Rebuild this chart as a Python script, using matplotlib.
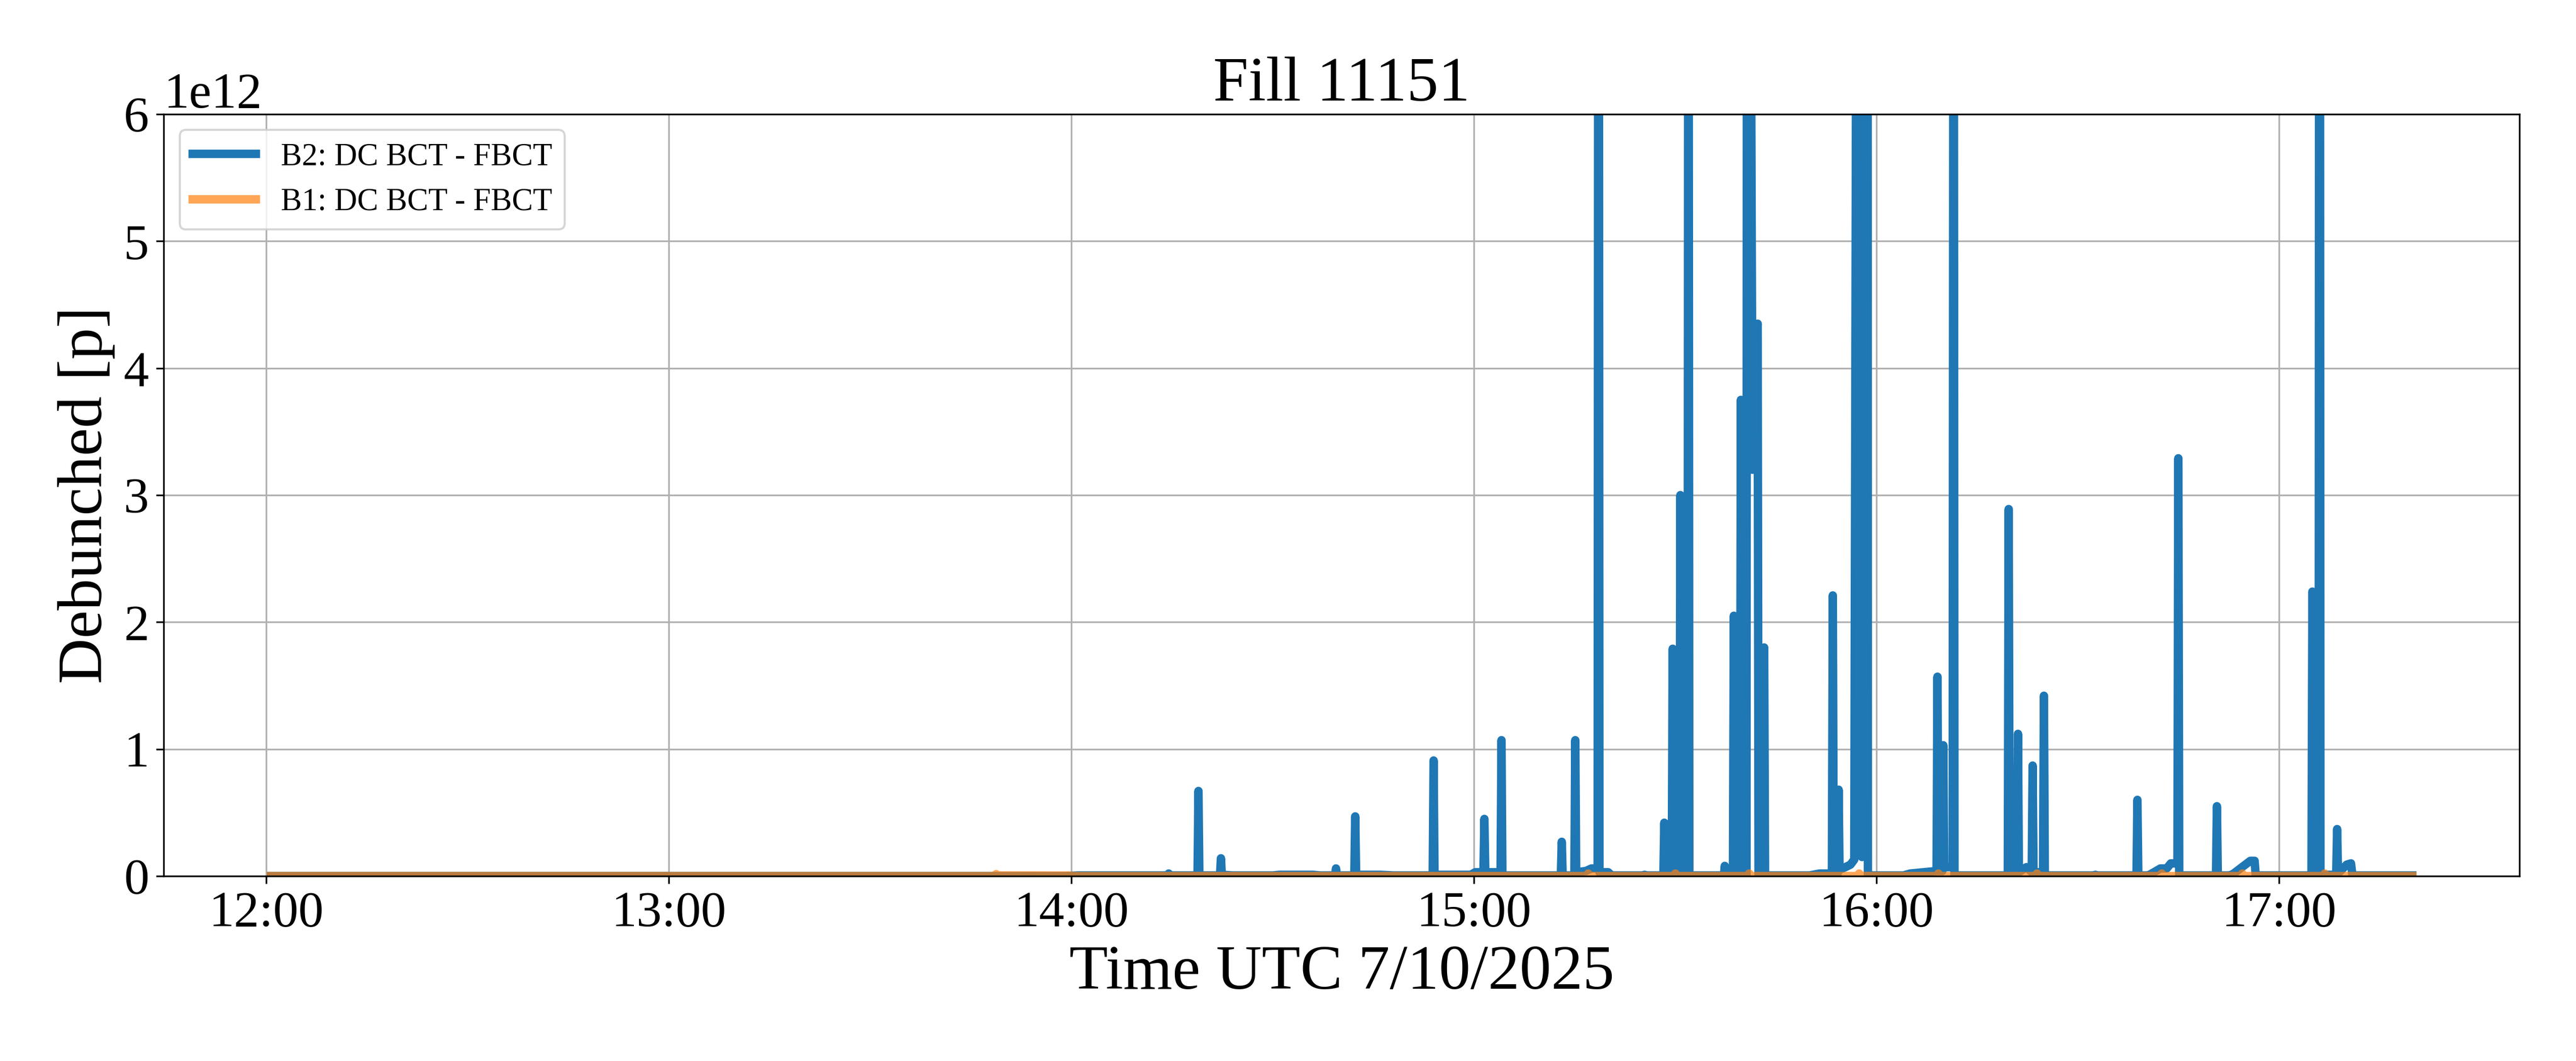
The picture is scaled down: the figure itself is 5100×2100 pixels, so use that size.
import pandas as pd
import matplotlib
matplotlib.use("Agg")
import matplotlib.pyplot as plt
import matplotlib.dates as mdates

plt.rcParams["font.family"] = ["Liberation Serif", "DejaVu Serif"]

fill = 11151
day = "2025-10-07"

# B2 debunched beam, (time UTC, value in 1e12 p)
b2_points = [
    ("12:00:40", 0.0), ("13:59:00", 0.0), ("14:01:00", 0.005),
    ("14:14:20", 0.005), ("14:14:29", 0.02), ("14:14:38", 0.005),
    ("14:18:47", 0.005), ("14:18:55", 0.67), ("14:19:03", 0.005),
    ("14:22:08", 0.005), ("14:22:16", 0.14), ("14:22:24", 0.01),
    ("14:24:00", 0.005), ("14:30:00", 0.005), ("14:31:00", 0.01),
    ("14:36:00", 0.01), ("14:37:00", 0.005),
    ("14:39:17", 0.005), ("14:39:25", 0.06), ("14:39:33", 0.005),
    ("14:42:09", 0.005), ("14:42:17", 0.47), ("14:42:25", 0.01),
    ("14:46:00", 0.01), ("14:48:00", 0.005),
    ("14:53:50", 0.005), ("14:53:58", 0.91), ("14:54:06", 0.01),
    ("14:59:30", 0.01), ("15:00:10", 0.03),
    ("15:01:24", 0.03), ("15:01:32", 0.45), ("15:01:40", 0.03),
    ("15:03:57", 0.03), ("15:04:05", 1.07), ("15:04:13", 0.005),
    ("15:12:56", 0.005), ("15:13:04", 0.27), ("15:13:12", 0.005),
    ("15:14:57", 0.005), ("15:15:05", 1.07), ("15:15:13", 0.03),
    ("15:16:40", 0.04), ("15:17:30", 0.06),
    ("15:18:25", 0.06), ("15:18:33", 12.0), ("15:18:41", 0.03),
    ("15:20:00", 0.03), ("15:20:30", 0.005),
    ("15:25:17", 0.005), ("15:25:25", 0.01), ("15:25:33", 0.005),
    ("15:28:13", 0.005), ("15:28:21", 0.42), ("15:28:29", 0.01),
    ("15:29:28", 0.01), ("15:29:36", 1.79), ("15:29:44", 0.01),
    ("15:30:37", 0.01), ("15:30:45", 3.0), ("15:30:53", 0.01),
    ("15:31:49", 0.01), ("15:31:57", 9.5), ("15:32:05", 0.005),
    ("15:37:14", 0.005), ("15:37:22", 0.08), ("15:37:30", 0.01),
    ("15:38:35", 0.01), ("15:38:43", 2.05), ("15:38:51", 0.01),
    ("15:39:38", 0.01), ("15:39:46", 3.75), ("15:39:54", 0.01),
    ("15:40:36", 0.01), ("15:40:44", 15.0), ("15:41:30", 3.2),
    ("15:42:16", 4.35), ("15:42:24", 0.01),
    ("15:43:06", 0.01), ("15:43:14", 1.8), ("15:43:22", 0.005),
    ("15:50:00", 0.005), ("15:51:30", 0.02),
    ("15:53:20", 0.02), ("15:53:28", 2.21), ("15:53:36", 0.02),
    ("15:54:12", 0.02), ("15:54:20", 0.68), ("15:54:28", 0.05),
    ("15:55:20", 0.07), ("15:56:06", 0.09), ("15:56:40", 0.13),
    ("15:57:08", 11.0), ("15:57:49", 0.15), ("15:58:34", 20.0),
    ("15:58:42", 0.005),
    ("16:04:00", 0.005), ("16:05:00", 0.02), ("16:07:00", 0.03),
    ("16:08:56", 0.04), ("16:09:04", 1.57), ("16:09:12", 0.04),
    ("16:09:48", 0.04), ("16:09:56", 1.03), ("16:10:04", 0.07),
    ("16:11:20", 0.07), ("16:11:28", 10.0), ("16:11:36", 0.005),
    ("16:19:33", 0.005), ("16:19:41", 2.89), ("16:19:49", 0.01),
    ("16:20:56", 0.01), ("16:21:04", 1.12), ("16:21:12", 0.03),
    ("16:22:19", 0.07),
    ("16:23:07", 0.03), ("16:23:15", 0.87), ("16:23:23", 0.03),
    ("16:24:48", 0.03), ("16:24:56", 1.42), ("16:25:04", 0.01),
    ("16:25:40", 0.005),
    ("16:32:28", 0.005), ("16:32:36", 0.01), ("16:32:44", 0.005),
    ("16:38:44", 0.005), ("16:38:52", 0.60), ("16:39:00", 0.005),
    ("16:40:30", 0.005), ("16:41:00", 0.02), ("16:42:18", 0.06),
    ("16:43:14", 0.06), ("16:43:51", 0.10),
    ("16:44:50", 0.10), ("16:44:58", 3.29), ("16:45:06", 0.005),
    ("16:50:35", 0.005), ("16:50:43", 0.55), ("16:50:51", 0.005),
    ("16:52:40", 0.005), ("16:53:13", 0.02), ("16:54:27", 0.07),
    ("16:55:42", 0.12), ("16:56:20", 0.12), ("16:56:30", 0.005),
    ("17:04:49", 0.005), ("17:04:57", 2.24), ("17:05:05", 0.01),
    ("17:05:53", 0.01), ("17:06:01", 14.0), ("17:06:09", 0.01),
    ("17:08:30", 0.01), ("17:08:38", 0.37), ("17:08:46", 0.02),
    ("17:10:04", 0.09), ("17:10:42", 0.10), ("17:10:55", 0.005),
    ("17:19:50", 0.005),
]

# B1 debunched beam, almost flat
b1_points = [
    ("12:00:40", 0.0), ("13:48:30", 0.0), ("13:48:46", 0.015),
    ("13:49:00", 0.005), ("13:59:30", 0.004), ("14:00:30", 0.0),
    ("15:16:52", 0.0), ("15:17:00", 0.02), ("15:17:08", 0.0),
    ("15:29:52", 0.0), ("15:30:00", 0.02), ("15:30:08", 0.0),
    ("15:40:52", 0.0), ("15:41:00", 0.02), ("15:41:08", 0.0),
    ("15:57:16", 0.0), ("15:57:24", 0.02), ("15:57:32", 0.0),
    ("16:09:04", 0.0), ("16:09:12", 0.02), ("16:09:20", 0.0),
    ("16:23:46", 0.0), ("16:23:54", 0.02), ("16:24:02", 0.0),
    ("16:42:22", 0.0), ("16:42:30", 0.02), ("16:42:38", 0.0),
    ("16:54:22", 0.0), ("16:54:30", 0.02), ("16:54:38", 0.0),
    ("17:06:40", 0.0), ("17:06:48", 0.02), ("17:06:56", 0.0),
    ("17:19:50", 0.0),
]

b2_t = pd.to_datetime([day + " " + t for t, v in b2_points])
b2_v = [v * 1e12 for t, v in b2_points]
b1_t = pd.to_datetime([day + " " + t for t, v in b1_points])
b1_v = [v * 1e12 for t, v in b1_points]

fig, ax = plt.subplots(figsize=(17, 7), dpi=300)
fig.subplots_adjust(left=0.0636, right=0.978, bottom=0.1743, top=0.8924)

ax.plot(b2_t, b2_v, color="C0", lw=4, label="B2: DC BCT - FBCT")
ax.plot(b1_t, b1_v, color="C1", lw=4, alpha=0.7, label="B1: DC BCT - FBCT")

ax.set_ylim(0, 6e12)
ax.xaxis.set_major_locator(mdates.HourLocator())
ax.xaxis.set_major_formatter(mdates.DateFormatter("%H:%M"))
ax.tick_params(labelsize=24)
ax.yaxis.get_offset_text().set_fontsize(24)
ax.grid(True)

ax.set_title(f"Fill {fill}", fontsize=30)
ax.set_xlabel("Time UTC 7/10/2025", fontsize=30)
ax.set_ylabel("Debunched [p]", fontsize=30)
ax.legend(loc="upper left", fontsize=15)

fig.savefig("out.png", dpi=300)
